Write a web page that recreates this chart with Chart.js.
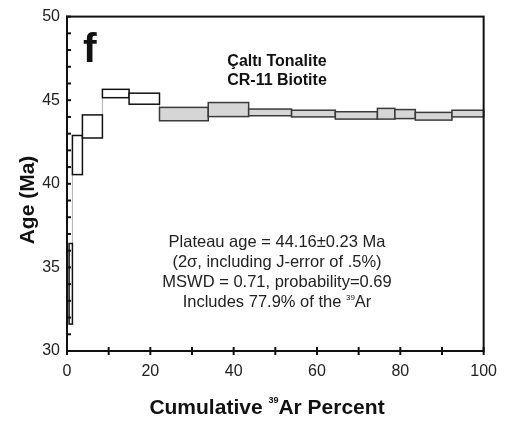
<!DOCTYPE html>
<html>
<head>
<meta charset="utf-8">
<script src="https://cdn.jsdelivr.net/npm/chart.js@4.4.1/dist/chart.umd.min.js"></script>
<style>
  html, body { margin: 0; padding: 0; background: #fff; }
  #wrap { width: 508px; height: 423px; position: relative; }
</style>
</head>
<body>
<div id="wrap"><canvas id="spectrumChart"></canvas></div>
<script>
// step boundaries (cumulative 39Ar %), one more than the number of steps
const cumPercent = [0.5, 1.3, 3.7, 8.5, 14.9, 22.2, 33.9, 43.6, 53.9, 64.4, 74.5, 78.7, 83.6, 92.4, 100];
// apparent age of each step (Ma) and its 2-sigma half width
const stepAge = [34.02, 41.72, 43.43, 45.40, 45.09, 44.17, 44.44, 44.27, 44.20, 44.09, 44.19, 44.17, 44.04, 44.20];
const stepErr = [2.41, 1.17, 0.69, 0.25, 0.33, 0.40, 0.42, 0.20, 0.20, 0.22, 0.32, 0.27, 0.23, 0.20];
const inPlateau = [false, false, false, false, false, true, true, true, true, true, true, true, true, true];
const xTickLabels = [0, 20, 40, 60, 80, 100];
const yTickLabels = [30, 35, 40, 45, 50];

const FONT = "'Liberation Sans', Arial, Helvetica, sans-serif";

// connector line between steps (hidden under the boxes except in gaps)
const connector = [];
for (let i = 0; i < stepAge.length; i++) {
    connector.push({ x: cumPercent[i], y: stepAge[i] });
    connector.push({ x: cumPercent[i + 1], y: stepAge[i] });
}

function drawRich(ctx, parts, cx, cy) {
    let total = 0;
    parts.forEach(p => { ctx.font = p.font; p.w = ctx.measureText(p.text).width; total += p.w; });
    let x = cx - total / 2;
    parts.forEach(p => {
        ctx.font = p.font;
        ctx.fillText(p.text, x, cy + (p.dy || 0));
        x += p.w;
    });
}

const spectrumPlugin = {
    id: 'spectrum',
    afterDatasetsDraw(chart) {
        const ctx = chart.ctx;
        const xs = chart.scales.x, ys = chart.scales.y;
        ctx.save();
        for (let i = 0; i < stepAge.length; i++) {
            const x0 = xs.getPixelForValue(cumPercent[i]);
            const x1 = xs.getPixelForValue(cumPercent[i + 1]);
            const yTop = ys.getPixelForValue(stepAge[i] + stepErr[i]);
            const yBot = ys.getPixelForValue(stepAge[i] - stepErr[i]);
            ctx.fillStyle = inPlateau[i] ? '#d6d6d6' : '#ffffff';
            ctx.fillRect(x0, yTop, x1 - x0, yBot - yTop);
            ctx.lineWidth = 1.5;
            ctx.strokeStyle = inPlateau[i] ? '#3a3a3a' : '#111111';
            ctx.strokeRect(x0, yTop, x1 - x0, yBot - yTop);
        }
        ctx.restore();
    },
    afterDraw(chart) {
        const ctx = chart.ctx;
        const a = chart.chartArea;
        const xs = chart.scales.x, ys = chart.scales.y;
        ctx.save();

        // frame
        ctx.strokeStyle = '#111';
        ctx.lineWidth = 2;
        ctx.strokeRect(a.left, a.top, a.right - a.left, a.bottom - a.top);

        // tick marks
        ctx.lineWidth = 2;
        xs.ticks.forEach(t => {
            const px = xs.getPixelForValue(t.value);
            ctx.beginPath();
            ctx.moveTo(px, a.bottom - 4);
            ctx.lineTo(px, a.bottom + 4);
            ctx.stroke();
        });
        ys.ticks.forEach(t => {
            const py = ys.getPixelForValue(t.value);
            ctx.beginPath();
            ctx.moveTo(a.left - 1, py);
            ctx.lineTo(a.left + 4, py);
            ctx.stroke();
        });

        ctx.fillStyle = '#111';
        ctx.textAlign = 'left';

        // panel letter
        ctx.textBaseline = 'alphabetic';
        ctx.font = 'bold 41px ' + FONT;
        ctx.fillText('f', 83, 62);

        // sample title
        ctx.textAlign = 'center';
        ctx.textBaseline = 'middle';
        ctx.font = 'bold 16px ' + FONT;
        ctx.fillText('Çaltı Tonalite', 277, 62);
        ctx.fillText('CR-11 Biotite', 277, 81);

        // plateau annotation
        ctx.fillStyle = '#222';
        ctx.font = '16.5px ' + FONT;
        ctx.fillText('Plateau age = 44.16±0.23 Ma', 277, 242);
        ctx.fillText('(2σ, including J-error of .5%)', 277, 262);
        ctx.fillText('MSWD = 0.71, probability=0.69', 277, 282);
        ctx.textAlign = 'left';
        drawRich(ctx, [
            { text: 'Includes 77.9% of the ', font: '16.5px ' + FONT },
            { text: '39', font: '8px ' + FONT, dy: -4 },
            { text: 'Ar', font: '16.5px ' + FONT }
        ], 277, 302);

        // axis titles
        ctx.fillStyle = '#111';
        drawRich(ctx, [
            { text: 'Cumulative ', font: 'bold 21px ' + FONT },
            { text: '39', font: 'bold 9px ' + FONT, dy: -7 },
            { text: 'Ar Percent', font: 'bold 21px ' + FONT }
        ], 267, 408);

        ctx.translate(28, 200);
        ctx.rotate(-Math.PI / 2);
        ctx.textAlign = 'center';
        ctx.font = 'bold 21px ' + FONT;
        ctx.fillText('Age (Ma)', 0, 0);

        ctx.restore();
    }
};

document.addEventListener('DOMContentLoaded', function() {
    new Chart(document.getElementById('spectrumChart').getContext('2d'), {
        type: 'line',
        data: {
            datasets: [{
                data: connector,
                borderColor: '#b0b0b0',
                borderWidth: 1,
                pointRadius: 0,
                fill: false,
                tension: 0
            }]
        },
        options: {
            responsive: true,
            maintainAspectRatio: false,
            animation: false,
            layout: { padding: { top: 15, right: 22, left: 0, bottom: 0 } },
            plugins: {
                legend: { display: false },
                tooltip: { enabled: false }
            },
            scales: {
                x: {
                    type: 'linear',
                    min: 0,
                    max: 100,
                    afterFit: function(scale) { scale.height = 72; },
                    grid: { display: false, drawTicks: false },
                    border: { display: false },
                    ticks: {
                        stepSize: 10,
                        autoSkip: false,
                        maxRotation: 0,
                        padding: 11,
                        color: '#222',
                        font: { family: FONT, size: 16 },
                        callback: v => xTickLabels.includes(v) ? String(v) : ''
                    }
                },
                y: {
                    type: 'linear',
                    min: 30,
                    max: 50,
                    afterFit: function(scale) { scale.width = 67; },
                    grid: { display: false, drawTicks: false },
                    border: { display: false },
                    ticks: {
                        stepSize: 1,
                        autoSkip: false,
                        padding: 7,
                        color: '#222',
                        font: { family: FONT, size: 16 },
                        callback: v => yTickLabels.includes(v) ? String(v) : ''
                    }
                }
            }
        },
        plugins: [spectrumPlugin]
    });
});
</script>
</body>
</html>
